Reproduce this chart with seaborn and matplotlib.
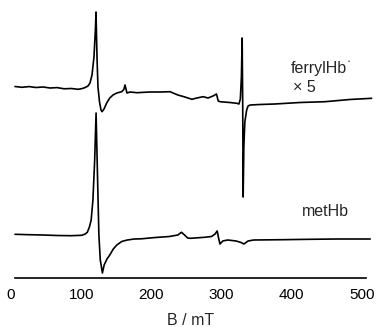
import matplotlib
matplotlib.use("Agg")
import matplotlib.pyplot as plt
import matplotlib.transforms as mtransforms
import seaborn as sns
import pandas as pd

# ---- data (B in mT, signal in arbitrary units) ----
ferryl_B = [0, 10, 20, 30, 40, 50, 60, 70, 80, 90, 96, 100, 104, 106.8, 109.7,
            112.5, 114.7, 115.4, 116.8, 118.2, 120.4, 122.5, 124, 126.8, 130.6,
            135, 139.6, 145, 152, 155, 156.7, 159.5, 163.8, 173.8, 192, 206.6,
            220.8, 232, 242, 252, 259, 268, 275, 282, 287, 289.5, 292, 306, 316,
            319, 321, 322.5, 323.6, 324.4, 325, 326, 327.4, 330, 332, 335, 349,
            370, 406, 441.6, 477, 508]
ferryl_sig = [0.5, -0.3, 0.4, -0.5, 0.0, -1.0, -0.6, -1.8, -1.5, -2.3, -1.5, -0.5,
              1, 4, 12, 30, 60, 75, 30, 0, -15, -23, -24.7, -22, -16, -11, -8, -6,
              -4.7, -2.5, 2, -6, -5, -5.7, -5, -5, -4.7, -8, -10, -12.3, -11, -9.7,
              -11, -9, -7, -14, -14.7, -15.5, -16.3, -17, -12, 10, 49, -20, -110,
              -60, -35, -23, -19, -18, -17.5, -17, -15.5, -14.7, -12.5, -11.3]

met_B = [0, 20, 40, 60, 80, 95, 100, 103, 106, 108.5, 111, 113.5, 115.5, 117.5,
         119.5, 121.5, 124.5, 127, 131, 135, 140, 145, 152, 160, 170, 180, 200,
         220, 232, 237, 240, 246, 250, 270, 280, 285, 288, 290, 292, 296, 303,
         315, 322, 326, 332, 340, 380, 420, 460, 506]
met_sig = [0.7, 0.3, 0, -0.5, -0.7, -0.3, 1, 2.7, 8, 15, 35, 75, 122, 60, 0, -25,
           -38, -30, -24, -20, -14, -10, -6.5, -5, -4, -3.8, -2.5, -1.5, 0, 2.7,
           1, -3, -3.3, -2.3, -1.5, 1, 4, -3, -9, -6, -5, -6, -7.5, -9, -6, -5,
           -4.7, -4.3, -4, -4]

tick_values = [0, 100, 200, 300, 400, 500]
tick_labels = ["0", "100", "200", "300", "400", "500"]
xlabel = "B / mT"
label_ferryl = "ferrylHb"
label_radical = "•"
label_ferryl2 = "× 5"
label_met = "metHb"

# ---- layout ----
ferryl_offset = 191
met_offset = 43

sns.set_style("white")
plt.rcParams["font.family"] = ["Liberation Sans", "DejaVu Sans"]

fig = plt.figure(figsize=(3.76, 3.27), dpi=100)
ax = fig.add_axes([15 / 376, (327 - 278) / 327, 351 / 376, 273 / 327])

df_f = pd.DataFrame({"B": ferryl_B, "y": [v + ferryl_offset for v in ferryl_sig]})
df_m = pd.DataFrame({"B": met_B, "y": [v + met_offset for v in met_sig]})

sns.lineplot(data=df_f, x="B", y="y", ax=ax, color="black", lw=1.2,
             sort=False, estimator=None, clip_on=False)
sns.lineplot(data=df_m, x="B", y="y", ax=ax, color="black", lw=1.2,
             sort=False, estimator=None, clip_on=False)

ax.set_xlim(0, 500)
ax.set_ylim(0, 273)
for s in ["left", "right", "top"]:
    ax.spines[s].set_visible(False)
ax.spines["bottom"].set_linewidth(1.2)
ax.spines["bottom"].set_color("black")
ax.set_yticks([])
ax.set_xticks(tick_values)
ax.set_xticklabels(tick_labels)
ax.tick_params(axis="x", direction="in", length=3, width=1, pad=7,
               labelsize=11, colors="black")
shift = mtransforms.ScaledTranslation(-4 / 100, 0, fig.dpi_scale_trans)
for lab in ax.get_xticklabels():
    lab.set_transform(lab.get_transform() + shift)
ax.set_xlabel(xlabel, fontsize=11.5, labelpad=8)
ax.set_ylabel("")

ax.text(393, 210, label_ferryl, fontsize=11.5, ha="left", va="center")
ax.text(476, 217, label_radical, fontsize=4, ha="center", va="center")
ax.text(396, 190, label_ferryl2, fontsize=11.5, ha="left", va="center")
ax.text(409, 67, label_met, fontsize=11.5, ha="left", va="center")

fig.savefig("out.png", dpi=100)
